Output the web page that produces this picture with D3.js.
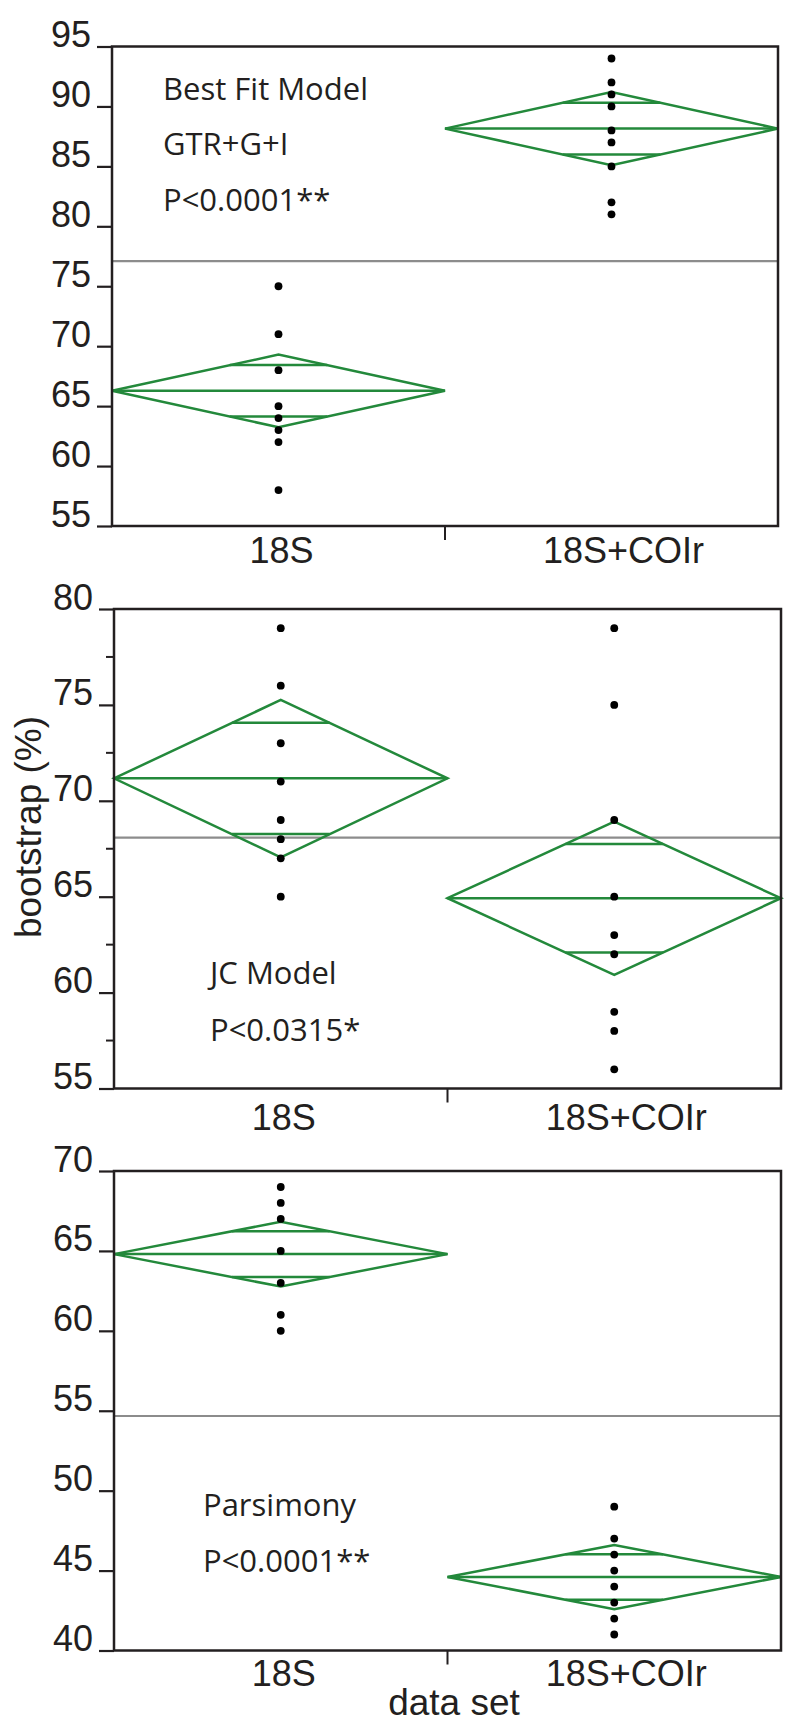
<!DOCTYPE html>
<html lang="en">
<head>
<meta charset="UTF-8">
<title>bootstrap (%) by data set</title>
<style>
  body { margin: 0; background: #fff; }
  .tick-label, .cat-label {
    font-family: "Liberation Sans", Arial, sans-serif;
    font-size: 36px;
    fill: #231f20;
  }
  .axis-title {
    font-family: "Liberation Sans", Arial, sans-serif;
    font-size: 37px;
    fill: #231f20;
  }
  .note {
    font-family: "Open Sans", sans-serif;
    font-size: 31px;
    fill: #231f20;
  }
</style>
</head>
<body>
<div id="chart"></div>
<script src="https://d3js.org/d3.v7.min.js"></script>
<script>
const categories = ["18S", "18S+COIr"];

// Best fit model, GTR+G+I
const gtrPoints18S = [75, 71, 68, 65, 64, 63, 62, 58];
const gtrPointsCOI = [94, 92, 91, 90, 88, 87, 85, 82, 81];
const gtrMeans = [66.28, 88.15];
const gtrLower = [63.24, 85.1];
const gtrUpper = [69.3, 91.2];
const gtrGrandMean = 77.1;
const gtrTicks = [55, 60, 65, 70, 75, 80, 85, 90, 95];
const gtrNotes = ["Best Fit Model", "GTR+G+I", "P<0.0001**"];

// JC model
const jcPoints18S = [79, 76, 73, 71, 69, 68, 67, 65];
const jcPointsCOI = [79, 75, 69, 65, 63, 62, 59, 58, 56];
const jcMeans = [71.17, 64.92];
const jcLower = [67.05, 60.92];
const jcUpper = [75.26, 68.91];
const jcGrandMean = 68.08;
const jcTicks = [55, 60, 65, 70, 75, 80];
const jcMinorTicks = [57.5, 62.5, 67.5, 72.5, 77.5];
const jcNotes = ["JC Model", "P<0.0315*"];

// Parsimony
const parsPoints18S = [69, 68, 67, 65, 63, 61, 60];
const parsPointsCOI = [49, 47, 46, 45, 44, 43, 42, 41];
const parsMeans = [64.8, 44.6];
const parsLower = [62.77, 42.59];
const parsUpper = [66.82, 46.6];
const parsGrandMean = 54.67;
const parsTicks = [40, 45, 50, 55, 60, 65, 70];
const parsNotes = ["Parsimony", "P<0.0001**"];

const panels = [
  { points: [gtrPoints18S, gtrPointsCOI], means: gtrMeans, lower: gtrLower, upper: gtrUpper,
    grand: gtrGrandMean, ticks: gtrTicks, minor: [], notes: gtrNotes,
    top: 46.5, bottom: 526, left: 112, right: 778, noteX: 163, noteY: 100, noteStep: 55.3, labelY: 37 },
  { points: [jcPoints18S, jcPointsCOI], means: jcMeans, lower: jcLower, upper: jcUpper,
    grand: jcGrandMean, ticks: jcTicks, minor: jcMinorTicks, notes: jcNotes,
    top: 609, bottom: 1088.5, left: 114, right: 781, noteX: 210, noteY: 984, noteStep: 57, labelY: 41.5 },
  { points: [parsPoints18S, parsPointsCOI], means: parsMeans, lower: parsLower, upper: parsUpper,
    grand: parsGrandMean, ticks: parsTicks, minor: [], notes: parsNotes,
    top: 1171, bottom: 1650.5, left: 114, right: 781, noteX: 203, noteY: 1516, noteStep: 55.7, labelY: 35 }
];

const ink = "#231f20";
const green = "#23893b";

const svg = d3.select("#chart")
  .append("svg")
  .attr("width", 787)
  .attr("height", 1731);

panels.forEach(p => {
  const g = svg.append("g");

  const x = d3.scaleBand()
    .domain(categories)
    .range([p.left, p.right]);

  const y = d3.scaleLinear()
    .domain(d3.extent(p.ticks))
    .range([p.bottom, p.top]);

  // y axis, labels sit on the tick line
  const yAxis = g.append("g")
    .attr("transform", "translate(" + p.left + ",0)")
    .call(d3.axisLeft(y).tickValues(p.ticks).tickSize(15).tickPadding(6));
  yAxis.select(".domain").remove();
  yAxis.selectAll(".tick line").attr("stroke", ink).attr("stroke-width", 2.2);
  yAxis.selectAll(".tick text")
    .attr("class", "tick-label")
    .attr("dy", 0);
  yAxis.attr("font-size", null).attr("font-family", null);

  if (p.minor.length) {
    g.selectAll(".minor")
      .data(p.minor)
      .join("line")
      .attr("x1", p.left - 8)
      .attr("x2", p.left)
      .attr("y1", d => y(d))
      .attr("y2", d => y(d))
      .attr("stroke", ink)
      .attr("stroke-width", 2);
  }

  // overall mean
  g.append("line")
    .attr("x1", p.left)
    .attr("x2", p.right)
    .attr("y1", y(p.grand))
    .attr("y2", y(p.grand))
    .attr("stroke", "#8c8c8c")
    .attr("stroke-width", 2.2);

  // means diamonds
  const bw = x.bandwidth();
  categories.forEach((cat, i) => {
    const xl = x(cat), xr = x(cat) + bw, cx = x(cat) + bw / 2;
    const m = p.means[i], lo = p.lower[i], hi = p.upper[i];

    g.append("path")
      .attr("d", d3.line()([[xl, y(m)], [cx, y(hi)], [xr, y(m)], [cx, y(lo)]]) + "Z")
      .attr("fill", "none")
      .attr("stroke", green)
      .attr("stroke-width", 2.5);

    g.append("line")
      .attr("x1", xl).attr("x2", xr)
      .attr("y1", y(m)).attr("y2", y(m))
      .attr("stroke", green)
      .attr("stroke-width", 2.5);

    // overlap marks
    const half = (hi - lo) / 2;
    const off = half / Math.SQRT2;
    const w = (bw / 2) * (1 - off / half);
    [m + off, m - off].forEach(v => {
      g.append("line")
        .attr("x1", cx - w).attr("x2", cx + w)
        .attr("y1", y(v)).attr("y2", y(v))
        .attr("stroke", green)
        .attr("stroke-width", 2.5);
    });

    g.selectAll(".dot-" + i)
      .data(p.points[i])
      .join("circle")
      .attr("cx", cx)
      .attr("cy", d => y(d))
      .attr("r", 3.9)
      .attr("fill", "#000");
  });

  // frame
  g.append("rect")
    .attr("x", p.left)
    .attr("y", p.top)
    .attr("width", p.right - p.left)
    .attr("height", p.bottom - p.top)
    .attr("fill", "none")
    .attr("stroke", ink)
    .attr("stroke-width", 2.5);

  // separator tick between groups
  g.append("line")
    .attr("x1", x(categories[1]))
    .attr("x2", x(categories[1]))
    .attr("y1", p.bottom)
    .attr("y2", p.bottom + 14)
    .attr("stroke", ink)
    .attr("stroke-width", 2);

  // category labels
  g.selectAll(".cat-label")
    .data(categories)
    .join("text")
    .attr("class", "cat-label")
    .attr("x", d => x(d) + bw / 2)
    .attr("dx", (d, i) => i ? 12 : 3)
    .attr("y", p.bottom + p.labelY)
    .attr("text-anchor", "middle")
    .text(d => d);

  // notes
  g.selectAll(".note")
    .data(p.notes)
    .join("text")
    .attr("class", "note")
    .attr("x", p.noteX)
    .attr("y", (d, i) => p.noteY + i * p.noteStep)
    .text(d => d);
});

svg.append("text")
  .attr("class", "axis-title")
  .attr("transform", "translate(41,827) rotate(-90)")
  .attr("text-anchor", "middle")
  .text("bootstrap (%)");

svg.append("text")
  .attr("class", "axis-title")
  .attr("x", 454)
  .attr("y", 1715)
  .attr("text-anchor", "middle")
  .text("data set");
</script>
</body>
</html>
